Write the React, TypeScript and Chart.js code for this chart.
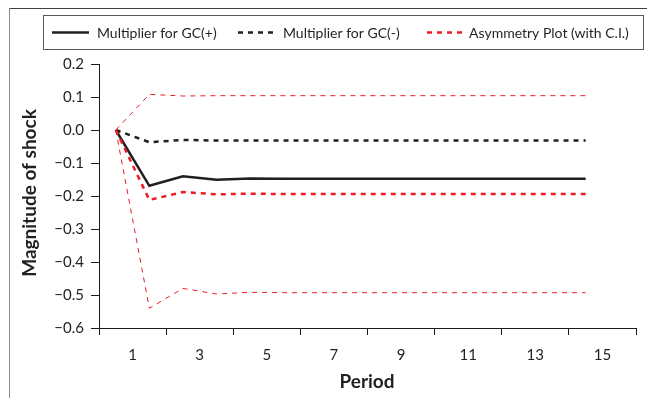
import React, { useEffect, useRef } from "react";
import { Chart, registerables } from "chart.js";

Chart.register(...registerables);

const periods = [1, 2, 3, 4, 5, 6, 7, 8, 9, 10, 11, 12, 13, 14, 15];
const gcPlus = [0, -0.169, -0.14, -0.151, -0.147, -0.148, -0.148, -0.148, -0.148, -0.148, -0.148, -0.148, -0.148, -0.148, -0.148];
const gcMinus = [0, -0.037, -0.03, -0.032, -0.032, -0.032, -0.032, -0.032, -0.032, -0.032, -0.032, -0.032, -0.032, -0.032, -0.032];
const asymmetry = [0, -0.212, -0.188, -0.195, -0.193, -0.194, -0.194, -0.194, -0.194, -0.194, -0.194, -0.194, -0.194, -0.194, -0.194];
const ciUpper = [0, 0.108, 0.103, 0.104, 0.104, 0.104, 0.104, 0.104, 0.104, 0.104, 0.104, 0.104, 0.104, 0.104, 0.104];
const ciLower = [0, -0.54, -0.48, -0.497, -0.492, -0.493, -0.493, -0.493, -0.493, -0.493, -0.493, -0.493, -0.493, -0.493, -0.493];
const xTickLabels = ["1", "3", "5", "7", "9", "11", "13", "15"];
const legendLabels = ["Multiplier for GC(+)", "Multiplier for GC(-)", "Asymmetry Plot (with C.I.)"];
const yTitle = "Magnitude of shock";
const xTitle = "Period";

const BLACK = "#231f20";
const RED = "#ed1c24";
const FONT = "Lato";

const toPoints = (vals: number[]) => vals.map((v, i) => ({ x: periods[i], y: v }));

const decorPlugin = {
  id: "decor",
  afterDraw(chart: any) {
    const ctx = chart.ctx as CanvasRenderingContext2D;
    ctx.save();
    // outer frame
    ctx.lineWidth = 1;
    ctx.strokeStyle = "#404040";
    ctx.beginPath();
    ctx.moveTo(9, 8.5);
    ctx.lineTo(647, 8.5);
    ctx.stroke();
    ctx.strokeStyle = "#8a8a8a";
    ctx.beginPath();
    ctx.moveTo(9.5, 8);
    ctx.lineTo(9.5, 398);
    ctx.stroke();

    // legend box
    ctx.strokeStyle = "#5a5a5a";
    ctx.strokeRect(43.5, 15.5, 600, 34);
    const ly = 32.5;
    const items = [
      { x0: 52, x1: 89, tx: 97, color: BLACK, dash: [] as number[], w: 2.5 },
      { x0: 238, x1: 273, tx: 283, color: BLACK, dash: [5, 5], w: 2.5 },
      { x0: 427, x1: 462, tx: 469, color: RED, dash: [5, 5], w: 2.5 },
    ];
    ctx.font = `14px ${FONT}`;
    ctx.textBaseline = "middle";
    ctx.textAlign = "left";
    items.forEach((it, i) => {
      ctx.strokeStyle = it.color;
      ctx.lineWidth = it.w;
      ctx.setLineDash(it.dash);
      ctx.beginPath();
      ctx.moveTo(it.x0, ly);
      ctx.lineTo(it.x1, ly);
      ctx.stroke();
      ctx.setLineDash([]);
      ctx.fillStyle = "#231f20";
      ctx.fillText(legendLabels[i], it.tx, ly + 1);
    });

    // axis titles
    ctx.fillStyle = "#231f20";
    ctx.font = `bold 19px ${FONT}`;
    ctx.textAlign = "center";
    ctx.textBaseline = "middle";
    ctx.fillText(xTitle, 367, 382);
    ctx.translate(30, 193);
    ctx.rotate(-Math.PI / 2);
    ctx.fillText(yTitle, 0, 0);
    ctx.restore();
  },
};

export default function App() {
  const ref = useRef<HTMLCanvasElement>(null);
  useEffect(() => {
    if (!ref.current) return;
    const chart = new Chart(ref.current, {
      type: "line",
      data: {
        datasets: [
          { label: "ciUpper", data: toPoints(ciUpper), borderColor: RED, borderWidth: 1, borderDash: [5, 5] },
          { label: "ciLower", data: toPoints(ciLower), borderColor: RED, borderWidth: 1, borderDash: [5, 5] },
          { label: legendLabels[2], data: toPoints(asymmetry), borderColor: RED, borderWidth: 2.5, borderDash: [5, 5] },
          { label: legendLabels[1], data: toPoints(gcMinus), borderColor: BLACK, borderWidth: 2.5, borderDash: [5, 5] },
          { label: legendLabels[0], data: toPoints(gcPlus), borderColor: BLACK, borderWidth: 2.5 },
        ],
      },
      options: {
        animation: false,
        responsive: false,
        devicePixelRatio: 1,
        elements: { point: { radius: 0 }, line: { tension: 0 } },
        layout: { padding: { left: 0, top: 64, right: 10, bottom: 0 } },
        plugins: { legend: { display: false }, tooltip: { enabled: false } },
        scales: {
          x: {
            type: "linear",
            min: 0.5,
            max: 16.5,
            afterBuildTicks: (scale: any) => {
              const t = [];
              for (let i = 0; i <= 16; i++) t.push({ value: 0.5 + i });
              scale.ticks = t;
            },
            afterFit: (scale: any) => {
              scale.height = 70;
            },
            ticks: {
              autoSkip: false,
              maxRotation: 0,
              padding: 11,
              color: "#231f20",
              font: { family: FONT, size: 15 },
              callback: (_v: any, index: number) => (index % 2 === 1 ? xTickLabels[(index - 1) / 2] : ""),
            },
            grid: {
              drawOnChartArea: false,
              drawTicks: true,
              tickLength: 7,
              tickColor: (c: any) => (c.index % 2 === 0 ? "#1a1a1a" : "rgba(0,0,0,0)"),
            },
            border: { display: true, color: "#1a1a1a", width: 1 },
          },
          y: {
            min: -0.6,
            max: 0.2,
            afterFit: (scale: any) => {
              scale.width = 99;
            },
            ticks: {
              stepSize: 0.1,
              padding: 7,
              color: "#231f20",
              font: { family: FONT, size: 15 },
              callback: (v: any) => {
                const r = Math.round(Number(v) * 10) / 10;
                if (r === 0) return "0.0";
                return (r < 0 ? "\u2212" : "") + Math.abs(r).toFixed(1);
              },
            },
            grid: { drawOnChartArea: false, drawTicks: true, tickLength: 8, tickColor: "#1a1a1a" },
            border: { display: true, color: "#1a1a1a", width: 1 },
          },
        },
      },
      plugins: [decorPlugin],
    } as any);
    return () => chart.destroy();
  }, []);
  return (
    <canvas
      ref={ref}
      width={647}
      height={398}
      style={{ position: "absolute", left: 0, top: 0, width: 647, height: 398 }}
    />
  );
}
